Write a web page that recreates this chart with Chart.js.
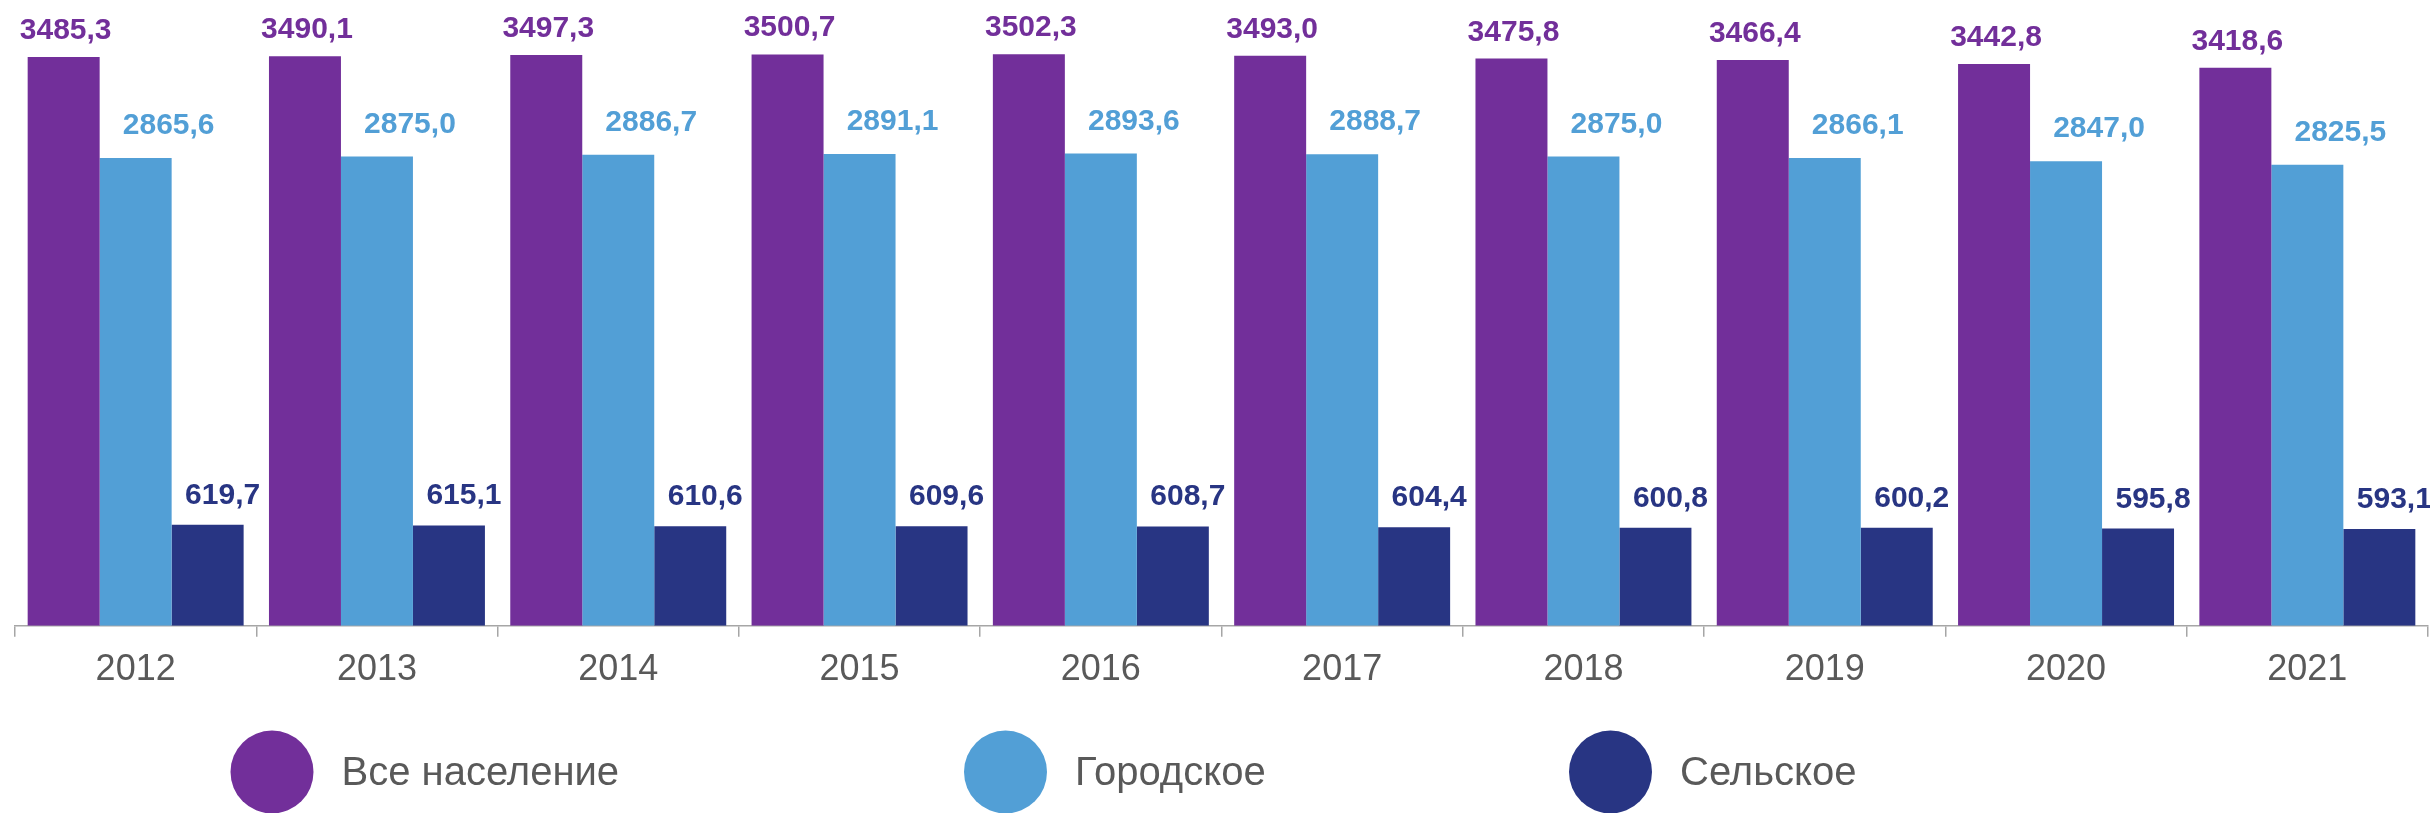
<!DOCTYPE html>
<html lang="ru">
<head>
<meta charset="utf-8">
<title>Численность населения</title>
<script src="https://cdn.jsdelivr.net/npm/chart.js@4.4.1/dist/chart.umd.min.js"></script>
<style>
  html, body { margin: 0; padding: 0; background: #fff; }
  .chart-box { position: relative; width: 2430px; height: 813px; }
</style>
</head>
<body>
<div class="chart-box"><canvas id="populationChart"></canvas></div>
<script>
const years = ['2012', '2013', '2014', '2015', '2016', '2017', '2018', '2019', '2020', '2021'];
const totalPop = [3485.3, 3490.1, 3497.3, 3500.7, 3502.3, 3493.0, 3475.8, 3466.4, 3442.8, 3418.6];
const urbanPop = [2865.6, 2875.0, 2886.7, 2891.1, 2893.6, 2888.7, 2875.0, 2866.1, 2847.0, 2825.5];
const ruralPop = [619.7, 615.1, 610.6, 609.6, 608.7, 604.4, 600.8, 600.2, 595.8, 593.1];
const seriesNames = ['Все население', 'Городское', 'Сельское'];
const seriesColors = ['#722F9A', '#529FD6', '#283583'];

const FONT = '"Liberation Sans", Arial, sans-serif';

// value labels above bars (offsets per series, like in the original)
const valueLabels = {
  id: 'valueLabels',
  afterDatasetsDraw(chart, args, opts) {
    const ctx = chart.ctx;
    ctx.save();
    ctx.font = 'bold 30px ' + FONT;
    ctx.textAlign = 'center';
    ctx.textBaseline = 'alphabetic';
    chart.data.datasets.forEach((ds, i) => {
      const meta = chart.getDatasetMeta(i);
      const off = opts.offsets[i];
      ctx.fillStyle = seriesColors[i];
      meta.data.forEach((bar, j) => {
        const txt = ds.data[j].toFixed(1).replace('.', ',');
        ctx.fillText(txt, bar.x + off.dx, bar.y - off.gap);
      });
    });
    ctx.restore();
  }
};

// legend with big circles under the axis
const bigLegend = {
  id: 'bigLegend',
  afterDraw(chart, args, opts) {
    const ctx = chart.ctx;
    ctx.save();
    ctx.font = '40px ' + FONT;
    ctx.textBaseline = 'middle';
    ctx.textAlign = 'left';
    seriesNames.forEach((name, i) => {
      const cx = opts.centers[i];
      ctx.fillStyle = seriesColors[i];
      ctx.beginPath();
      ctx.arc(cx, opts.y, opts.radius, 0, Math.PI * 2);
      ctx.fill();
      ctx.fillStyle = '#595959';
      ctx.fillText(name, cx + opts.radius + opts.gap, opts.y + 2);
    });
    ctx.restore();
  }
};

const ctx = document.getElementById('populationChart').getContext('2d');
const populationChart = new Chart(ctx, {
  type: 'bar',
  data: {
    labels: years,
    datasets: [
      { label: seriesNames[0], data: totalPop, backgroundColor: seriesColors[0] },
      { label: seriesNames[1], data: urbanPop, backgroundColor: seriesColors[1] },
      { label: seriesNames[2], data: ruralPop, backgroundColor: seriesColors[2] }
    ]
  },
  options: {
    responsive: true,
    maintainAspectRatio: false,
    animation: false,
    layout: { padding: { top: 10, left: 15, right: 2, bottom: 109 } },
    datasets: {
      bar: { barPercentage: 1.0, categoryPercentage: 0.895 }
    },
    scales: {
      x: {
        grid: {
          display: true,
          drawOnChartArea: false,
          drawTicks: true,
          tickLength: 11,
          color: '#A6A6A6',
          lineWidth: 1.5
        },
        border: { display: true, color: '#A6A6A6', width: 1.5 },
        ticks: {
          color: '#595959',
          font: { family: FONT, size: 36 },
          padding: 12,
          maxRotation: 0
        }
      },
      y: {
        display: false,
        min: 0,
        max: 3773
      }
    },
    plugins: {
      legend: { display: false },
      tooltip: { enabled: false },
      valueLabels: {
        offsets: [
          { dx: 2, gap: 18 },
          { dx: 33, gap: 24 },
          { dx: 15, gap: 21 }
        ]
      },
      bigLegend: { centers: [272, 1005.5, 1610.5], y: 772, radius: 41.5, gap: 28 }
    }
  },
  plugins: [valueLabels, bigLegend]
});
</script>
</body>
</html>
